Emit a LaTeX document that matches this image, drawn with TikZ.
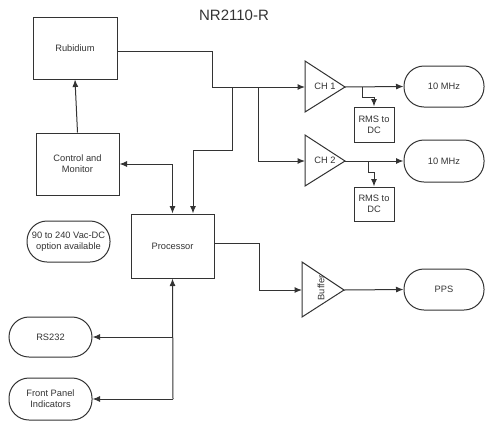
\documentclass[tikz,border=0pt]{standalone}
\usepackage{fontspec}
\setmainfont{Liberation Sans}
\usetikzlibrary{arrows.meta}
\definecolor{ink}{HTML}{333333}
\tikzset{
  base/.style={draw=ink, line width=1pt, text=ink, font=\fontsize{9.3}{11.3}\selectfont, align=center, inner sep=0pt},
  blk/.style={base, rectangle},
  term/.style={base, rectangle, rounded corners=20pt},
  wire/.style={draw=ink, line width=1pt},
  arr/.style={wire, -{Latex[length=7.5pt,width=6pt]}},
  darr/.style={wire, {Latex[length=7.5pt,width=6pt]}-{Latex[length=7.5pt,width=6pt]}},
  amp/.style={draw=ink, line width=1pt},
  lbl/.style={text=ink, font=\fontsize{9.3}{11.3}\selectfont, inner sep=0pt}
}
\begin{document}
\begin{tikzpicture}[x=1pt,y=-1pt]
\useasboundingbox (0,0) rectangle (486,421);
% title
\node[text=ink, font=\fontsize{15}{18}\selectfont, inner sep=0pt] (title) at (234,15) {NR2110-R};
% blocks
\node[blk, minimum width=84pt, minimum height=62pt] (rub) at (75,48) {Rubidium};
\node[blk, minimum width=83pt, minimum height=62pt] (ctl) at (77.5,164) {Control and\\Monitor};
\node[blk, minimum width=83pt, minimum height=64pt] (proc) at (172.5,246) {Processor};
\node[blk, minimum width=40pt, minimum height=35pt] (rms1) at (374,124.5) {RMS to\\DC};
\node[blk, minimum width=40pt, minimum height=34pt] (rms2) at (374,204) {RMS to\\DC};
% terminals
\node[term, minimum width=80pt, minimum height=41pt] (mhz1) at (444,86.5) {10 MHz};
\node[term, minimum width=80pt, minimum height=42pt] (mhz2) at (444,161) {10 MHz};
\node[term, minimum width=80pt, minimum height=41pt] (pps) at (444,289.5) {PPS};
\node[term, minimum width=83pt, minimum height=41pt] (vac) at (68.5,241.5) {90 to 240 Vac-DC\\option available};
\node[term, minimum width=83pt, minimum height=40pt] (rs) at (50.5,337) {RS232};
\node[term, minimum width=83pt, minimum height=42pt] (fp) at (50.5,399) {Front Panel\\Indicators};
% amplifiers
\coordinate (ch1in) at (305,87);
\coordinate (ch1out) at (345,87);
\draw[amp] (305,61) -- (ch1out) -- (305,112) -- cycle;
\node[lbl] (ch1) at (325,86) {CH 1};
\coordinate (ch2in) at (305,161);
\coordinate (ch2out) at (345,161);
\draw[amp] (305,135) -- (ch2out) -- (305,186) -- cycle;
\node[lbl] (ch2) at (325,160) {CH 2};
\coordinate (bufin) at (302,290);
\coordinate (bufout) at (344,290);
\draw[amp] (302,262) -- (bufout) -- (302,317) -- cycle;
\node[lbl, rotate=90] (buf) at (321,288) {Buffer};
% junction coordinates
\coordinate (rubout) at ([yshift=-3pt]rub.east);
\coordinate (j0) at (212,87);
\coordinate (j1) at (232,87);
\coordinate (j2) at (258,87);
\coordinate (k1) at (232,150);
\coordinate (b1) at (362,87);
\coordinate (c1) at (362,97);
\coordinate (b2) at (368,161);
\coordinate (c2) at (368,172);
\coordinate (pout) at ([yshift=3pt]proc.east);
\coordinate (pk) at (259,290);
\coordinate (bot) at (173,399);
\coordinate (rsj) at (173,337);
% connectors
\draw[arr] (rubout) -| (j0) -- (ch1in);
\draw[arr] (j1) -- (k1) -| ([xshift=20.5pt]proc.north);
\draw[arr] (j2) |- (ch2in);
\draw[darr] (ctl.east) -| (proc.north);
\draw[arr] (ctl.north) -- (rub.south);
\draw[arr] (ch1out) -- (mhz1.west);
\draw[arr] (ch2out) -- (mhz2.west);
\draw[arr] (b1) -- (c1) -| (rms1.north);
\draw[arr] (b2) -- (c2) -| (rms2.north);
\draw[arr] (pout) -| (pk) -- (bufin);
\draw[arr] (bufout) -- (pps.west);
\draw[arr] (bot) -- (proc.south);
\draw[arr] (rsj) -- (rs.east);
\draw[arr] (bot) -- (fp.east);
\end{tikzpicture}
\end{document}
